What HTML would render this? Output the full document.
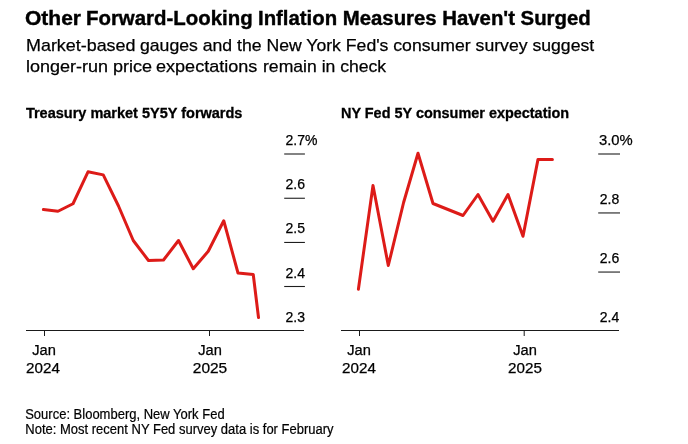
<!DOCTYPE html>
<html><head><meta charset="utf-8">
<style>
html,body{margin:0;padding:0;background:#fff;}
body{width:688px;height:444px;position:relative;overflow:hidden;font-family:"Liberation Sans",sans-serif;color:#000;}
.t{position:absolute;white-space:nowrap;line-height:1;transform-origin:0 0;}
.c{transform-origin:50% 0;text-align:center;}
.ti{top:7.7px;font-size:20px;font-weight:bold;-webkit-text-stroke:0.4px #000;}
.s1{top:36.8px;font-size:17px;-webkit-text-stroke:0.25px #000;}
.s2{top:57.5px;font-size:17px;-webkit-text-stroke:0.25px #000;}
#h1{left:25.9px;top:106px;font-size:14.5px;font-weight:bold;-webkit-text-stroke:0.3px #000;transform:scaleX(1.0);}
#h2{left:341.1px;top:106px;font-size:14.5px;font-weight:bold;-webkit-text-stroke:0.3px #000;transform:scaleX(0.9955);}
#src{left:25.2px;top:407.2px;font-size:13px;-webkit-text-stroke:0.2px #000;transform:scaleY(1.075);}
#note{left:25.3px;top:422.2px;font-size:13px;-webkit-text-stroke:0.2px #000;transform:scaleY(1.075);}
.yl{font-size:14px;transform:scaleX(1.0);-webkit-text-stroke:0.25px #000;}
.xl{font-size:14px;transform:scaleX(1.047);width:60px;margin-left:-30px;-webkit-text-stroke:0.25px #000;}
.yr{transform:scaleX(1.086);margin-left:-30.8px;}
svg{position:absolute;left:0;top:0;}
.grp{position:absolute;left:0;top:0;margin:0;padding:0;font-size:inherit;font-weight:normal;}
.grp span{display:block;}
</style></head><body>
<h1 class="grp"><span class="t ti" style="left:25.4px;transform:scaleX(1.05)">Other </span><span class="t ti" style="left:86.3px;transform:scaleX(1.02)">Forward-Looking </span><span class="t ti" style="left:258.2px;transform:scaleX(1.0172)">Inflation Measures Haven't Surged</span></h1>
<p class="grp"><span class="t s1" style="left:25.5px;transform:scaleX(1.0535)">Market-based </span><span class="t s1" style="left:139.8px;transform:scaleX(1.037)">gauges and the New York Fed's consumer survey suggest</span>
<span class="t s2" style="left:25.5px;transform:scaleX(1.0594)">longer-run price </span><span class="t s2" style="left:156.3px;transform:scaleX(1.062)">expectations </span><span class="t s2" style="left:262.6px;transform:scaleX(1.0345)">remain in check</span></p>
<div class="t" id="h1">Treasury market 5Y5Y forwards</div>
<div class="t" id="h2">NY Fed 5Y consumer expectation</div>
<svg width="688" height="444" viewBox="0 0 688 444">
<g stroke="#1e1e1e" stroke-width="1.1">
<line x1="284.2" x2="304.9" y1="154" y2="154"/>
<line x1="284.2" x2="304.9" y1="198.25" y2="198.25"/>
<line x1="284.2" x2="304.9" y1="242.45" y2="242.45"/>
<line x1="284.2" x2="304.9" y1="286.5" y2="286.5"/>
<line x1="598.2" x2="620" y1="154" y2="154"/>
<line x1="598.2" x2="620" y1="212.95" y2="212.95"/>
<line x1="598.2" x2="620" y1="272.05" y2="272.05"/>
</g>
<g stroke="#1a1a1a" stroke-width="1" shape-rendering="crispEdges">
<line x1="26" x2="304" y1="330.5" y2="330.5"/>
<line x1="341" x2="619" y1="330.5" y2="330.5"/>
<line x1="44.5" x2="44.5" y1="330" y2="336"/>
<line x1="209.5" x2="209.5" y1="330" y2="336"/>
<line x1="359.5" x2="359.5" y1="330" y2="336"/>
</g>
<line x1="524.2" x2="524.2" y1="330" y2="336" stroke="#1a1a1a" stroke-width="1"/>
<g fill="none" stroke="#dd1b18" stroke-width="3" stroke-linejoin="round" stroke-linecap="round">
<polyline points="43.4,209.6 58,211.25 73,203.75 88,171.8 103.25,174.9 118.5,206 133.25,240.5 148.5,260.5 163.5,260 178.5,240.5 193.25,268.75 208.25,251.25 223.75,220.75 238,273 253.25,274.5 258.5,317.5"/>
<polyline points="358.4,289.2 373,185.5 388.3,265.5 403.6,202.5 418,153.25 433,203.5 463,215.5 478,194.5 493,221.25 508,194.5 523,236.25 538,159.4 552.4,159.4"/>
</g>
</svg>
<div class="t yl" style="left:285.5px;top:133px">2.7%</div>
<div class="t yl" style="left:285.5px;top:177.1px">2.6</div>
<div class="t yl" style="left:285.5px;top:221.4px">2.5</div>
<div class="t yl" style="left:285.5px;top:265.6px">2.4</div>
<div class="t yl" style="left:285.5px;top:309.9px">2.3</div>
<div class="t yl" style="left:598.7px;top:133px;transform:scaleX(1.057)">3.0%</div>
<div class="t yl" style="left:599.8px;top:191.8px">2.8</div>
<div class="t yl" style="left:599.8px;top:250.8px">2.6</div>
<div class="t yl" style="left:599.8px;top:309.9px">2.4</div>
<div class="t c xl" style="left:44px;top:342.6px">Jan</div>
<div class="t c xl yr" style="left:44px;top:360.6px">2024</div>
<div class="t c xl" style="left:209.5px;top:342.6px">Jan</div>
<div class="t c xl yr" style="left:210.5px;top:360.6px;transform:scaleX(1.105)">2025</div>
<div class="t c xl" style="left:359px;top:342.6px">Jan</div>
<div class="t c xl yr" style="left:359.8px;top:360.6px">2024</div>
<div class="t c xl" style="left:524.5px;top:342.6px">Jan</div>
<div class="t c xl yr" style="left:525.4px;top:360.6px">2025</div>
<div class="t" id="src">Source: Bloomberg, New York Fed</div>
<div class="t" id="note">Note: Most recent NY Fed survey data is for February</div>
</body></html>
